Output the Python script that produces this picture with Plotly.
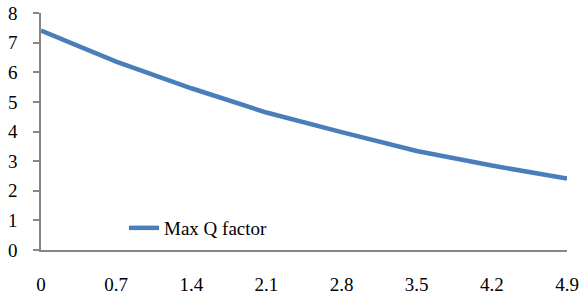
import plotly.graph_objects as go

x_vals = [0, 0.7, 1.4, 2.1, 2.8, 3.5, 4.2, 4.9]
q_factor = [7.41, 6.36, 5.46, 4.64, 3.98, 3.34, 2.85, 2.41]
x_tick_labels = ["0", "0.7", "1.4", "2.1", "2.8", "3.5", "4.2", "4.9"]
y_ticks = [0, 1, 2, 3, 4, 5, 6, 7, 8]

W, H = 580, 297
ml, mt = 41, 13
mr = W - 567
mb = H - 250
pw, ph = W - ml - mr, H - mt - mb

FONT = "Liberation Serif, Times New Roman, serif"

fig = go.Figure()
fig.add_trace(go.Scatter(
    x=x_vals, y=q_factor, mode="lines", name="Max Q factor",
    line=dict(color="#4a7ebb", width=4.5),
))

fig.update_layout(
    width=W, height=H,
    margin=dict(l=ml, r=mr, t=mt, b=mb, autoexpand=False),
    paper_bgcolor="white", plot_bgcolor="white",
    font=dict(family=FONT, size=19, color="#000000"),
    showlegend=True,
    legend=dict(x=(124 - ml) / pw, y=(250 - 228) / ph, xanchor="left", yanchor="middle",
                bgcolor="rgba(0,0,0,0)", font=dict(family=FONT, size=19)),
)
fig.update_xaxes(
    range=[0, 4.9], tickvals=x_vals, ticktext=x_tick_labels, automargin=False,
    showgrid=False, zeroline=False, showline=True, linecolor="#868686", linewidth=1.5,
    ticks="", ticklabelstandoff=16, ticklabeloverflow="allow",
)
fig.update_yaxes(
    range=[0, 8], tickvals=y_ticks, showgrid=False, zeroline=False, automargin=False,
    showline=True, linecolor="#868686", linewidth=1.5,
    ticks="outside", ticklen=6, tickcolor="#868686", tickwidth=1.5,
    ticklabelstandoff=12, ticklabeloverflow="allow",
)
fig.write_html(
    "out.html",
    config={"displayModeBar": False},
    post_script="document.body.style.margin='0';document.body.style.padding='0';",
)
